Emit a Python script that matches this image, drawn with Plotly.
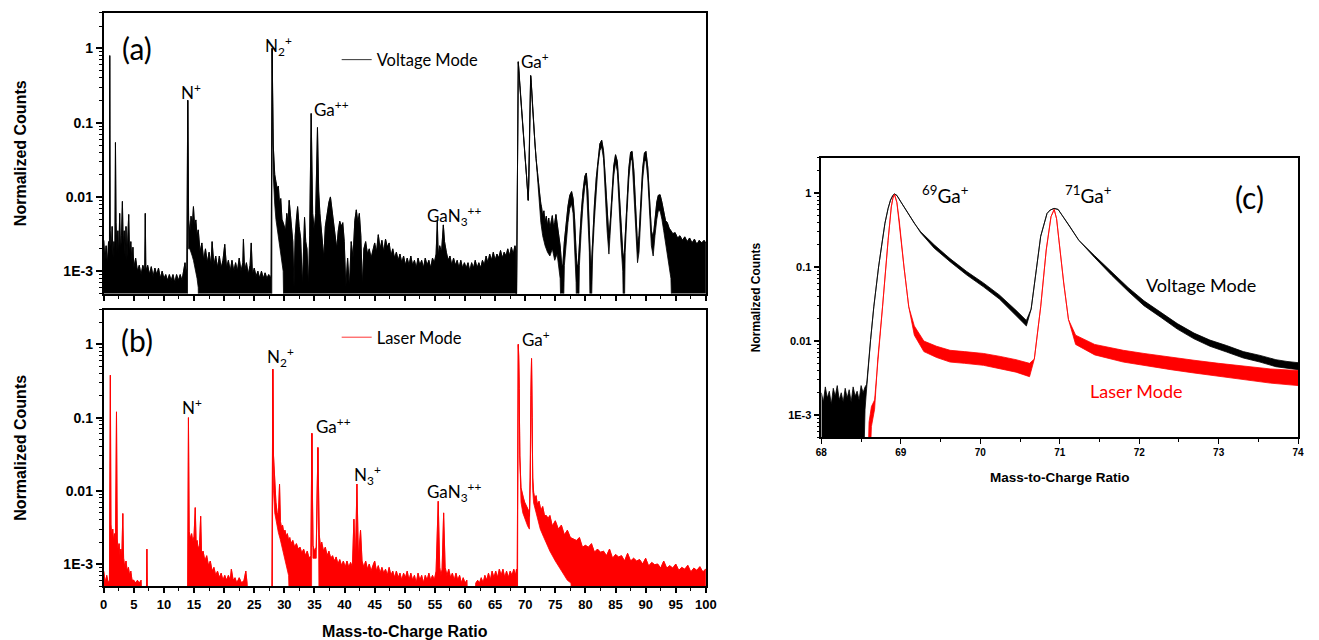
import plotly.graph_objects as go

Z = 1e-4  # no counts (below the plotted range)

# ======== Panel (a): Voltage mode, full spectrum ========
# upper edge of the trace band
a_top_mz = [0.0, 0.2, 0.4, 0.6, 0.8, 0.95, 1.0, 1.08, 1.25, 1.4,
            1.55, 1.7, 1.85, 1.95, 2.05, 2.2, 2.35, 2.5, 2.65, 2.8,
            2.95, 3.1, 3.25, 3.4, 3.55, 3.7, 3.85, 4.0, 4.15, 4.3,
            4.5, 4.7, 4.85, 5.0, 5.3, 5.6, 5.9, 6.2, 6.5, 6.8,
            6.9, 7.0, 7.3, 7.6, 7.9, 8.2, 8.5, 8.8, 9.1, 9.4,
            9.7, 10.0, 10.3, 10.6, 10.9, 11.2, 11.5, 11.8, 12.1, 12.4,
            12.7, 13.0, 13.3, 13.5, 13.7, 13.8, 13.95, 14.1, 14.3, 14.5,
            14.7, 14.9, 15.1, 15.3, 15.5, 15.7, 16.0, 16.3, 16.6, 16.9,
            17.2, 17.5, 17.8, 18.0, 18.3, 18.6, 18.9, 19.2, 19.5, 19.8,
            20.1, 20.4, 20.7, 21.0, 21.3, 21.6, 21.9, 22.2, 22.5, 22.8,
            23.1, 23.2, 23.4, 23.7, 24.0, 24.3, 24.5, 24.7, 25.0, 25.3,
            25.6, 25.9, 26.2, 26.5, 26.8, 27.1, 27.4, 27.7, 27.8, 27.97,
            28.15, 28.4, 28.6, 28.8, 29.0, 29.2, 29.4, 29.6, 29.8, 30.0,
            30.2, 30.4, 30.6, 30.8, 31.0, 31.2, 31.4, 31.6, 31.8, 32.0,
            32.2, 32.45, 32.7, 33.0, 33.2, 33.35, 33.55, 33.75, 34.0, 34.2,
            34.45, 34.7, 34.95, 35.2, 35.5, 35.7, 35.9, 36.1, 36.3, 36.55,
            36.8, 37.1, 37.4, 37.65, 37.9, 38.2, 38.45, 38.7, 38.95, 39.2,
            39.45, 39.7, 39.95, 40.2, 40.5, 40.8, 41.1, 41.4, 41.7, 41.95,
            42.2, 42.45, 42.7, 42.95, 43.2, 43.5, 43.8, 44.1, 44.4, 44.7,
            45.0, 45.3, 45.6, 45.9, 46.2, 46.5, 46.8, 47.1, 47.4, 47.7,
            48.0, 48.3, 48.6, 48.9, 49.2, 49.5, 49.8, 50.1, 50.4, 50.7,
            51.0, 51.3, 51.6, 51.9, 52.2, 52.5, 52.8, 53.1, 53.4, 53.7,
            54.0, 54.3, 54.6, 54.9, 55.2, 55.4, 55.55, 55.8, 56.1, 56.4,
            56.6, 56.9, 57.2, 57.5, 57.8, 58.1, 58.4, 58.7, 59.0, 59.3,
            59.6, 59.9, 60.2, 60.5, 60.8, 61.1, 61.4, 61.7, 62.0, 62.3,
            62.6, 62.9, 63.2, 63.5, 63.8, 64.1, 64.4, 64.7, 65.0, 65.3,
            65.6, 65.9, 66.2, 66.5, 66.8, 67.1, 67.4, 67.7, 68.0, 68.3,
            68.45, 68.5, 68.85, 68.95, 69.1, 69.3, 69.5, 69.75, 70.0, 70.2,
            70.4, 70.5, 70.6, 70.75, 70.9, 71.0, 71.2, 71.4, 71.6, 71.8,
            72.0, 72.2, 72.4, 72.6, 72.7, 72.9, 73.1, 73.3, 73.5, 73.7,
            73.9, 74.1, 74.3, 74.5, 74.7, 74.9, 75.1, 75.3, 75.5, 75.8,
            76.05, 76.25, 76.5, 76.8, 77.1, 77.4, 77.7, 77.95, 78.2, 78.45,
            78.6, 78.8, 79.0, 79.3, 79.6, 79.9, 80.15, 80.4, 80.65, 80.85,
            81.0, 81.2, 81.5, 81.8, 82.1, 82.4, 82.7, 83.0, 83.3, 83.6,
            83.9, 84.15, 84.4, 84.7, 85.0, 85.3, 85.6, 85.9, 86.2, 86.4,
            86.6, 86.9, 87.2, 87.5, 87.75, 88.05, 88.35, 88.65, 88.9, 89.2,
            89.5, 89.8, 90.05, 90.35, 90.65, 90.95, 91.25, 91.55, 91.85, 92.1,
            92.4, 92.7, 93.0, 93.3, 93.6, 93.9, 94.2, 94.5, 94.9, 95.3,
            95.7, 96.1, 96.5, 96.9, 97.3, 97.7, 98.1, 98.5, 98.9, 99.3,
            99.7, 100.0]
a_top = [2.6e-3, 1.4e-3, 2.2e-3, 1.2e-3, 2.5e-3, 1.6e-3, 0.8, 3.5e-3, 1.8e-3, 4e-3,
         1.5e-3, 2.5e-3, 1.6e-3, 0.054, 4.5e-3, 1.8e-3, 3.5e-3, 1.5e-3, 6e-3, 1.8e-3,
         3e-3, 8.7e-3, 2e-3, 3.5e-3, 1.5e-3, 4e-3, 1.4e-3, 2.5e-3, 5.8e-3, 1.6e-3,
         2.5e-3, 1.3e-3, 2.1e-3, 1.1e-3, 1.5e-3, 1.0e-3, 1.2e-3, 9e-4, 1.2e-3, 1.0e-3,
         6e-3, 1.0e-3, 1.2e-3, 9e-4, 1.15e-3, 8.5e-4, 1.1e-3, 9e-4, 1.1e-3, 8e-4,
         1.0e-3, 8e-4, 9e-4, 7.5e-4, 9e-4, 7.5e-4, 9e-4, 7e-4, 9e-4, 7.5e-4,
         9e-4, 7.5e-4, 1.0e-3, 1.3e-3, 9e-4, 1.1e-3, 0.2, 5e-3, 3.2e-3, 5.5e-3,
         4e-3, 7.4e-3, 4e-3, 4.9e-3, 3e-3, 3.6e-3, 1.8e-3, 2.4e-3, 1.4e-3, 2e-3,
         1.3e-3, 1.8e-3, 1.2e-3, 2.5e-3, 1.2e-3, 1.6e-3, 1.1e-3, 1.6e-3, 1.1e-3, 1.4e-3,
         2.3e-3, 1.1e-3, 1.4e-3, 1.0e-3, 1.4e-3, 1.0e-3, 1.3e-3, 1.0e-3, 1.5e-3, 1.0e-3,
         1.3e-3, 2.7e-3, 1.0e-3, 1.3e-3, 9e-4, 1.2e-3, 2.4e-3, 9e-4, 1.1e-3, 8.5e-4,
         1.0e-3, 8e-4, 1.0e-3, 8e-4, 9.5e-4, 8e-4, 9e-4, 8e-4, 9e-4, 1.0,
         0.05, 0.02, 0.016, 0.013, 0.014, 8e-3, 9.5e-3, 5e-3, 4.5e-3, 4e-3,
         3.5e-3, 6e-3, 4.5e-3, 9e-3, 6e-3, 4e-3, 2.5e-3, 6e-4, 3e-3, 5e-3,
         7.4e-3, 4e-3, 2.8e-3, 6e-4, 4e-3, 5.3e-3, 2.5e-3, 2e-3, 6e-4, 3e-3,
         0.133, 6e-3, 3.6e-3, 6e-3, 0.086, 0.012, 6e-3, 4e-3, 3e-3, 1.5e-3,
         4e-3, 6e-3, 8.5e-3, 0.01, 6.5e-3, 4e-3, 2.5e-3, 2e-3, 3.5e-3, 4.7e-3,
         4e-3, 4.5e-3, 2.5e-3, 6e-4, 1.5e-3, 6e-4, 2.5e-3, 1.5e-3, 4.8e-3, 6.7e-3,
         4.5e-3, 6e-3, 3e-3, 6e-4, 2e-3, 2.5e-3, 1.7e-3, 2e-3, 1.5e-3, 1.9e-3,
         2.4e-3, 1.8e-3, 3.1e-3, 2e-3, 2.6e-3, 1.8e-3, 2.7e-3, 2.1e-3, 2.4e-3, 1.6e-3,
         2e-3, 1.5e-3, 1.8e-3, 1.4e-3, 1.7e-3, 1.3e-3, 1.6e-3, 1.2e-3, 1.5e-3, 1.2e-3,
         1.6e-3, 1.2e-3, 1.4e-3, 1.1e-3, 1.5e-3, 1.2e-3, 1.4e-3, 1.1e-3, 1.5e-3, 1.2e-3,
         1.4e-3, 1.1e-3, 1.5e-3, 1.3e-3, 1.7e-3, 4.7e-3, 1.6e-3, 2.2e-3, 1.8e-3, 4.2e-3,
         2.5e-3, 1.8e-3, 1.4e-3, 1.6e-3, 1.2e-3, 1.5e-3, 1.2e-3, 1.4e-3, 1.1e-3, 1.4e-3,
         1.1e-3, 1.3e-3, 1.1e-3, 1.3e-3, 1.0e-3, 1.3e-3, 1.1e-3, 1.4e-3, 1.1e-3, 1.3e-3,
         1.1e-3, 1.4e-3, 1.2e-3, 1.6e-3, 1.3e-3, 1.7e-3, 1.4e-3, 1.8e-3, 1.4e-3, 1.7e-3,
         1.5e-3, 1.9e-3, 1.5e-3, 1.8e-3, 1.6e-3, 2e-3, 1.6e-3, 2.1e-3, 1.7e-3, 2.2e-3,
         1.9e-3, Z, 0.66, 0.5, 0.32, 0.18, 0.1, 0.055, 0.032, 0.02,
         0.012, 9e-3, 0.015, 0.1, 0.43, 0.35, 0.17, 0.09, 0.055, 0.033,
         0.021, 0.014, 0.011, 8e-3, 7.4e-3, 5.5e-3, 6.5e-3, 4.5e-3, 5.5e-3, 4e-3,
         5.2e-3, 3.8e-3, 4.8e-3, 5.6e-3, 4e-3, 4.5e-3, 5.8e-3, 4.5e-3, 3.5e-3, 2.2e-3,
         1.2e-3, 1.2e-3, 2.5e-3, 4.5e-3, 7.5e-3, 0.0105, 0.0118, 9.5e-3, 5e-3, 1.8e-3,
         1.2e-3, 1.2e-3, 2.5e-3, 6e-3, 0.012, 0.019, 0.021, 0.012, 3.5e-3, 1.2e-3,
         1.2e-3, 3e-3, 8e-3, 0.018, 0.035, 0.052, 0.058, 0.042, 0.018, 6e-3,
         2.8e-3, 5e-3, 0.012, 0.026, 0.037, 0.03, 0.012, 4e-3, 1.8e-3, 1.4e-3,
         3e-3, 9e-3, 0.024, 0.04, 0.041, 0.022, 6.5e-3, 2.2e-3, 3e-3, 9e-3,
         0.024, 0.039, 0.041, 0.025, 9e-3, 3.5e-3, 2.8e-3, 5e-3, 8.5e-3, 0.0105,
         0.0107, 8.5e-3, 6.5e-3, 4.8e-3, 4.5e-3, 3.8e-3, 3.5e-3, 3.2e-3, 3.3e-3, 2.8e-3,
         3e-3, 2.6e-3, 2.9e-3, 2.5e-3, 2.8e-3, 2.4e-3, 2.7e-3, 2.3e-3, 2.6e-3, 2.4e-3,
         2.6e-3, 2.4e-3]
# lower edge of the trace band
a_bot_mz = [0.0, 13.9, 13.95, 14.1, 14.3, 14.5, 14.7, 14.9, 15.1, 15.3,
            15.5, 15.7, 15.8, 27.9, 27.97, 28.15, 28.4, 28.6, 28.8, 29.0,
            29.2, 29.4, 29.6, 29.8, 30.0, 68.5, 68.85, 68.95, 69.1, 69.3,
            69.5, 69.75, 70.0, 70.2, 70.4, 70.5, 70.6, 70.75, 70.9, 71.0,
            71.2, 71.4, 71.6, 71.8, 72.0, 72.2, 72.4, 72.6, 72.9, 73.3,
            73.7, 74.1, 74.5, 74.9, 75.3, 75.8, 76.05, 76.25, 76.5, 76.8,
            77.1, 77.4, 77.7, 77.95, 78.2, 78.45, 78.6, 78.8, 79.0, 79.3,
            79.6, 79.9, 80.15, 80.4, 80.65, 80.85, 81.0, 81.2, 81.5, 81.8,
            82.1, 82.4, 82.7, 83.0, 83.3, 83.6, 83.9, 84.15, 84.4, 84.7,
            85.0, 85.3, 85.6, 85.9, 86.2, 86.4, 86.6, 86.9, 87.2, 87.5,
            87.75, 88.05, 88.35, 88.65, 88.9, 89.2, 89.5, 89.8, 90.05, 90.35,
            90.65, 90.95, 91.25, 91.55, 91.85, 92.1, 92.4, 92.7, 93.0, 93.3,
            93.6, 93.9, 94.2, 94.5, 100.0]
a_bot = [Z, Z, 0.2, 2e-3, 2e-3, 1.8e-3, 1.6e-3, 1.4e-3, 1.2e-3, 1e-3,
         8e-4, 6e-4, Z, Z, 1.0, 0.02, 8e-3, 5e-3, 3.5e-3, 3e-3,
         2.2e-3, 1.8e-3, 1.3e-3, 1e-3, Z, Z, 0.66, 0.5, 0.32, 0.18,
         0.1, 0.055, 0.032, 0.02, 0.012, 9e-3, 0.015, 0.1, 0.43, 0.35,
         0.17, 0.09, 0.055, 0.033, 0.021, 0.011, 7e-3, 4.5e-3, 3e-3, 2.2e-3,
         1.8e-3, 1.6e-3, 2e-3, 1.4e-3, 1.7e-3, 8e-4, Z, Z, 1.2e-3, 2.5e-3,
         4.5e-3, 7e-3, 8e-3, 6e-3, 2.5e-3, 7e-4, Z, Z, 1.2e-3, 3.5e-3,
         8e-3, 0.014, 0.016, 7e-3, 1.8e-3, Z, Z, 1.7e-3, 5e-3, 0.013,
         0.027, 0.042, 0.047, 0.033, 0.012, 3.5e-3, 1.7e-3, 3.3e-3, 8e-3, 0.019,
         0.029, 0.022, 8e-3, 2.4e-3, 1e-3, Z, 1.8e-3, 6e-3, 0.017, 0.031,
         0.032, 0.015, 4e-3, 1.3e-3, 1.8e-3, 6e-3, 0.017, 0.03, 0.031, 0.018,
         6e-3, 2.2e-3, 1.6e-3, 3e-3, 5e-3, 6.5e-3, 6.5e-3, 5e-3, 3.5e-3, 2.5e-3,
         1.8e-3, 1.2e-3, 8e-4, Z, Z]

# ======== Panel (b): Laser mode, full spectrum ========
b_top_mz = [0.0, 0.25, 0.5, 0.75, 0.95, 1.1, 1.2, 1.35, 1.5, 1.65,
            1.8, 1.95, 2.12, 2.25, 2.4, 2.55, 2.7, 2.85, 3.0, 3.17,
            3.3, 3.5, 3.7, 3.9, 4.1, 4.3, 4.5, 4.7, 5.0, 5.3,
            5.6, 5.9, 6.2, 6.5, 7.0, 7.17, 7.35, 13.9, 14.07, 14.2,
            14.4, 14.6, 14.8, 15.0, 15.2, 15.35, 15.5, 15.7, 15.9, 16.1,
            16.25, 16.5, 16.8, 17.1, 17.4, 17.7, 18.0, 18.3, 18.6, 18.9,
            19.2, 19.5, 19.8, 20.1, 20.4, 20.7, 21.0, 21.2, 21.5, 21.8,
            22.1, 22.5, 22.9, 23.3, 23.6, 23.8, 24.1, 27.9, 28.08, 28.2,
            28.4, 28.6, 28.8, 29.0, 29.2, 29.35, 29.5, 29.7, 29.9, 30.1,
            30.3, 30.5, 30.7, 30.9, 31.1, 31.4, 31.7, 32.0, 32.3, 32.6,
            32.9, 33.2, 33.5, 33.8, 34.1, 34.4, 34.57, 34.75, 35.0, 35.3,
            35.57, 35.8, 36.0, 36.2, 36.5, 36.8, 37.1, 37.4, 37.7, 38.0,
            38.3, 38.6, 38.9, 39.2, 39.5, 39.8, 40.1, 40.4, 40.7, 41.0,
            41.3, 41.55, 41.8, 42.05, 42.3, 42.65, 42.9, 43.2, 43.5, 43.8,
            44.1, 44.4, 44.7, 45.0, 45.3, 45.6, 45.9, 46.2, 46.5, 46.8,
            47.1, 47.4, 47.7, 48.0, 48.3, 48.6, 48.9, 49.2, 49.5, 49.8,
            50.1, 50.4, 50.7, 51.0, 51.3, 51.6, 51.9, 52.2, 52.5, 52.8,
            53.1, 53.4, 53.7, 54.0, 54.3, 54.6, 54.9, 55.2, 55.55, 55.8,
            56.0, 56.2, 56.45, 56.7, 57.0, 57.3, 57.6, 57.9, 58.2, 58.5,
            58.8, 59.1, 59.4, 59.7, 60.0, 60.3, 60.6, 61.5, 61.8, 62.1,
            62.4, 62.7, 63.0, 63.3, 63.6, 63.9, 64.2, 64.5, 64.8, 65.1,
            65.4, 65.7, 66.0, 66.3, 66.6, 66.9, 67.2, 67.5, 67.8, 68.1,
            68.4, 68.55, 68.62, 68.85, 68.92, 69.0, 69.1, 69.3, 69.5, 69.7,
            69.9, 70.1, 70.3, 70.5, 70.7, 70.85, 70.95, 71.05, 71.15, 71.25,
            71.4, 71.6, 71.8, 72.0, 72.3, 72.6, 72.9, 73.2, 73.5, 73.8,
            74.1, 74.5, 75.0, 75.5, 76.0, 76.5, 77.0, 77.5, 78.0, 78.5,
            79.0, 79.5, 80.0, 80.5, 81.0, 81.5, 82.0, 82.5, 83.0, 83.5,
            84.0, 84.5, 85.0, 85.5, 86.0, 86.5, 87.0, 87.5, 88.0, 88.5,
            89.0, 89.5, 90.0, 90.5, 91.0, 91.5, 92.0, 92.5, 93.0, 93.5,
            94.0, 94.5, 95.0, 95.5, 96.0, 96.5, 97.0, 97.5, 98.0, 98.5,
            99.0, 99.5, 100.0]
b_top = [8e-4, 5.5e-4, 7e-4, 5.5e-4, 6e-4, 0.38, 3.5e-3, 2.2e-3, 3e-3, 2e-3,
         2.6e-3, 1.8e-3, 0.12, 2.2e-3, 1.5e-3, 1.9e-3, 1.3e-3, 1.6e-3, 1.2e-3, 4.9e-3,
         1.2e-3, 9e-4, 1.1e-3, 8e-4, 9e-4, 7e-4, 8e-4, 6e-4, 6e-4, 5.5e-4,
         6e-4, 5.5e-4, 6e-4, Z, Z, 1.6e-3, Z, Z, 0.1, 2.8e-3,
         2.2e-3, 2.6e-3, 2e-3, 2.4e-3, 5.9e-3, 1.9e-3, 2.1e-3, 1.6e-3, 1.8e-3, 4.5e-3,
         1.4e-3, 1.5e-3, 1.1e-3, 1.3e-3, 9.5e-4, 1.1e-3, 8e-4, 9e-4, 7e-4, 8e-4,
         6.5e-4, 7.5e-4, 6e-4, 7e-4, 6e-4, 7e-4, 6e-4, 8.5e-4, 6e-4, 6.5e-4,
         5.5e-4, 6.5e-4, 5.5e-4, 6e-4, 8e-4, 5.5e-4, Z, Z, 0.46, 0.03,
         0.0135, 7e-3, 5e-3, 4.5e-3, 0.0123, 3.8e-3, 3.2e-3, 3.4e-3, 2.7e-3, 2.9e-3,
         2.4e-3, 2.6e-3, 2.1e-3, 2.3e-3, 1.9e-3, 2.1e-3, 1.7e-3, 1.9e-3, 1.6e-3, 1.7e-3,
         1.4e-3, 1.6e-3, 1.3e-3, 1.5e-3, 1.2e-3, 1.3e-3, 0.061, 1.8e-3, 1.5e-3, 1.7e-3,
         0.039, 2.5e-3, 1.7e-3, 2e-3, 1.5e-3, 1.7e-3, 1.3e-3, 1.5e-3, 1.2e-3, 1.3e-3,
         1.1e-3, 1.25e-3, 1e-3, 1.15e-3, 9.5e-4, 1.1e-3, 9e-4, 1.1e-3, 9e-4, 1.05e-3,
         9e-4, 4.1e-3, 1.1e-3, 0.0124, 1.2e-3, 2.9e-3, 1.1e-3, 9e-4, 1.1e-3, 8.5e-4,
         1e-3, 8e-4, 9.5e-4, 1.1e-3, 8e-4, 9.5e-4, 7.5e-4, 9e-4, 7.5e-4, 8.5e-4,
         7e-4, 9e-4, 7e-4, 8e-4, 6.5e-4, 8e-4, 6.5e-4, 7.5e-4, 6e-4, 7.5e-4,
         6.5e-4, 8e-4, 6e-4, 7.5e-4, 6e-4, 7e-4, 5.5e-4, 7.5e-4, 6e-4, 7e-4,
         5.5e-4, 7e-4, 6e-4, 7.5e-4, 6e-4, 7e-4, 6e-4, 8e-4, 7.2e-3, 9e-4,
         7e-4, 8.5e-4, 5e-3, 9e-4, 7e-4, 8.5e-4, 6.5e-4, 7.5e-4, 6e-4, 7.5e-4,
         6e-4, 7e-4, 5.5e-4, 6.5e-4, 5.5e-4, 6e-4, Z, Z, 5.5e-4, 6e-4,
         5.5e-4, 6.5e-4, 5.5e-4, 7e-4, 6e-4, 7.5e-4, 6e-4, 8e-4, 6.5e-4, 8e-4,
         6.5e-4, 8.5e-4, 7e-4, 8.5e-4, 6.5e-4, 8e-4, 6.5e-4, 8e-4, 7e-4, 8.5e-4,
         7e-4, 8.5e-4, Z, 1.0, 0.7, 0.25, 0.03, 0.011, 9e-3, 8e-3,
         7e-3, 6.5e-3, 6e-3, 5.5e-3, 4.5e-3, 0.015, 0.2, 0.64, 0.1, 0.015,
         9.5e-3, 7.6e-3, 8.6e-3, 6.6e-3, 7.2e-3, 5.4e-3, 6.1e-3, 4.6e-3, 4.6e-3, 4.2e-3,
         4.6e-3, 3.3e-3, 3.9e-3, 3.0e-3, 3.4e-3, 2.5e-3, 2.9e-3, 2.3e-3, 2.2e-3, 2.1e-3,
         2.3e-3, 1.7e-3, 1.8e-3, 1.7e-3, 1.9e-3, 1.45e-3, 1.6e-3, 1.45e-3, 1.5e-3, 1.3e-3,
         1.6e-3, 1.2e-3, 1.35e-3, 1.25e-3, 1.3e-3, 1.1e-3, 1.4e-3, 1.1e-3, 1.2e-3, 1.1e-3,
         1.15e-3, 1.0e-3, 1.2e-3, 9.4e-4, 1.05e-3, 9.8e-4, 1.0e-3, 8.8e-4, 1.1e-3, 8.8e-4,
         9.5e-4, 8.8e-4, 1.0e-3, 8.2e-4, 9.0e-4, 8.5e-4, 9.6e-4, 7.8e-4, 8.8e-4, 8.2e-4,
         9.2e-4, 7.8e-4, 8.6e-4]
b_bot_mz = [0.0, 28.0, 28.08, 28.2, 28.4, 28.6, 28.8, 29.0, 29.3, 29.6,
            29.9, 30.3, 30.7, 31.0, 34.5, 34.57, 34.75, 35.3, 35.57, 35.8,
            68.7, 68.85, 68.92, 69.0, 69.1, 69.3, 69.6, 70.0, 70.4, 70.7,
            70.85, 70.95, 71.05, 71.15, 71.25, 71.4, 71.8, 72.0, 72.5, 73.0,
            73.5, 74.1, 75.0, 76.0, 77.0, 77.6, 78.0, 100.0]
b_bot = [Z, Z, 0.46, 0.01, 5e-3, 4e-3, 3.2e-3, 2.7e-3, 2.2e-3, 1.7e-3,
         1.3e-3, 1e-3, 7e-4, Z, Z, 0.061, 1.2e-3, 1.2e-3, 0.039, Z,
         Z, 1.0, 0.7, 0.25, 0.03, 7e-3, 5e-3, 4e-3, 3.3e-3, 3e-3,
         0.015, 0.2, 0.64, 0.1, 0.01, 6.8e-3, 5e-3, 4.3e-3, 3e-3, 2.4e-3,
         2e-3, 1.5e-3, 1.1e-3, 8e-4, 6e-4, 5.5e-4, Z, Z]

# ======== Panel (c): zoom on the Ga+ isotopes ========
c_volt_mz = [68.0, 68.025, 68.05, 68.075, 68.1, 68.125, 68.15, 68.175, 68.2, 68.225,
             68.25, 68.275, 68.3, 68.325, 68.35, 68.375, 68.4, 68.425, 68.45, 68.475,
             68.5, 68.525, 68.55,
             68.57, 68.62, 68.66, 68.72, 68.76, 68.8, 68.84, 68.87, 68.9, 68.92,
             68.95, 69.0, 69.08, 69.17, 69.25, 69.42, 69.62, 69.83, 70.04, 70.24,
             70.45, 70.58, 70.64, 70.7, 70.76, 70.84, 70.88, 70.93, 70.98, 71.03,
             71.13, 71.24, 71.44, 71.65, 71.86, 72.06, 72.27, 72.48, 72.69, 72.89,
             73.1, 73.31, 73.52, 73.72, 73.86, 74.0]
c_volt_hi = [2.0e-3, 1.5e-3, 2.4e-3, 1.7e-3, 2.1e-3, 1.4e-3, 2.3e-3, 1.8e-3, 2.5e-3, 1.6e-3,
             2.0e-3, 1.5e-3, 2.3e-3, 1.7e-3, 2.2e-3, 1.5e-3, 2.4e-3, 1.8e-3, 2.1e-3, 1.6e-3,
             2.5e-3, 2.0e-3, 2.4e-3,
             2.6e-3, 0.0105, 0.029, 0.1, 0.2, 0.39, 0.62, 0.8, 0.93, 0.97,
             0.93, 0.76, 0.56, 0.39, 0.30, 0.2, 0.13, 0.087, 0.061, 0.042,
             0.026, 0.019, 0.027, 0.083, 0.26, 0.53, 0.59, 0.62, 0.6, 0.5,
             0.35, 0.23, 0.142, 0.087, 0.053, 0.035, 0.0245, 0.0172, 0.0128, 0.0103,
             0.0087, 0.0072, 0.0064, 0.0056, 0.0053, 0.0051]
c_volt_lo = [Z, Z, Z, Z, Z, Z, Z, Z, Z, Z,
             Z, Z, Z, Z, Z, Z, Z, Z, Z, Z,
             Z, Z, 1.2e-3,
             2.3e-3, 0.0105, 0.029, 0.1, 0.2, 0.39, 0.62, 0.8, 0.93, 0.97,
             0.93, 0.76, 0.56, 0.39, 0.29, 0.18, 0.118, 0.078, 0.054, 0.037,
             0.022, 0.016, 0.027, 0.083, 0.26, 0.53, 0.59, 0.62, 0.6, 0.5,
             0.35, 0.23, 0.134, 0.078, 0.047, 0.030, 0.021, 0.0145, 0.0107, 0.0085,
             0.0071, 0.0059, 0.0052, 0.0045, 0.0043, 0.0041]

c_laser_mz = [68.0, 68.58, 68.6, 68.63, 68.67, 68.71, 68.77, 68.84, 68.88, 68.9,
              68.92, 68.95, 68.98, 69.04, 69.1, 69.17, 69.29, 69.45, 69.62, 69.8,
              70.04, 70.25, 70.45, 70.62, 70.68, 70.76, 70.83, 70.89, 70.93, 70.96,
              70.99, 71.05, 71.11, 71.2, 71.44, 71.8, 72.06, 72.4, 72.69, 73.0,
              73.31, 73.65, 74.0]
c_laser_hi = [Z, Z, 8e-4, 1.3e-3, 1.6e-3, 5.7e-3, 0.029, 0.23, 0.65, 0.85,
              0.96, 0.75, 0.43, 0.1, 0.029, 0.016, 0.010, 0.0085, 0.0075, 0.0072,
              0.0068, 0.0062, 0.0056, 0.005, 0.0057, 0.029, 0.17, 0.48, 0.6, 0.45,
              0.23, 0.061, 0.0195, 0.012, 0.009, 0.0075, 0.0068, 0.006, 0.0055, 0.005,
              0.0046, 0.0042, 0.0040]
c_laser_lo = [Z, Z, Z, 7e-4, 1.2e-3, 5.7e-3, 0.029, 0.23, 0.65, 0.85,
              0.96, 0.75, 0.43, 0.1, 0.029, 0.012, 0.0072, 0.006, 0.0052, 0.005,
              0.0047, 0.0042, 0.0038, 0.0033, 0.0057, 0.029, 0.17, 0.48, 0.6, 0.45,
              0.23, 0.061, 0.0195, 0.009, 0.0065, 0.0052, 0.0047, 0.0041, 0.0037, 0.0033,
              0.003, 0.0027, 0.0025]

y_tickvals = [1e-3, 1e-2, 1e-1, 1]
y_ticktext = ["1E-3", "0.01", "0.1", "1"]

for xs, ys in [(a_top_mz, a_top), (a_bot_mz, a_bot), (b_top_mz, b_top), (b_bot_mz, b_bot),
               (c_volt_mz, c_volt_hi), (c_volt_mz, c_volt_lo),
               (c_laser_mz, c_laser_hi), (c_laser_mz, c_laser_lo)]:
    assert len(xs) == len(ys), (len(xs), len(ys))

BLACK = "#000000"
RED = "#ff0000"
W, H = 1319, 640

fig = go.Figure()


def add_spectrum(xt, yt, xb, yb, color, xa, ya, name=None, legend=None):
    bx = list(xt) + list(xb)[::-1]
    by = list(yt) + list(yb)[::-1]
    fig.add_trace(go.Scatter(x=bx, y=by, mode="lines", fill="toself", fillcolor=color,
                             line=dict(color=color, width=0.8), showlegend=False,
                             hoverinfo="skip", xaxis=xa, yaxis=ya))
    if name:
        fig.add_trace(go.Scatter(x=xt, y=yt, mode="lines", line=dict(color=color, width=0.8),
                                 name=name, showlegend=True, legend=legend,
                                 xaxis=xa, yaxis=ya))


add_spectrum(a_top_mz, a_top, a_bot_mz, a_bot, BLACK, "x", "y", "Voltage Mode", "legend")
add_spectrum(b_top_mz, b_top, b_bot_mz, b_bot, RED, "x2", "y2", "Laser Mode", "legend2")
add_spectrum(c_volt_mz, c_volt_hi, c_volt_mz, c_volt_lo, BLACK, "x3", "y3")
add_spectrum(c_laser_mz, c_laser_hi, c_laser_mz, c_laser_lo, RED, "x3", "y3")

ARIAL = "Liberation Sans, Arial"
TICKFONT = dict(family=ARIAL, size=14, color="black", weight="bold")
TICKFONT_C = dict(family=ARIAL, size=11, color="black", weight="bold")
TITLEFONT = dict(family=ARIAL, size=16, color="black", weight="bold")
TITLEFONT_C = dict(family=ARIAL, size=12, color="black", weight="bold")
LBL = "Lato, Open Sans, sans-serif"

common = dict(showline=True, linecolor="black", mirror=True, showgrid=False,
              zeroline=False, ticks="outside", tickcolor="black")
YRANGE = [-3.301, 0.477]


def xdom(l, r):
    return [l / W, r / W]


def ydom(top, bottom):
    return [1 - bottom / H, 1 - top / H]


def yax(dom, anchor, tf, ttf, standoff, lw):
    return dict(domain=dom, anchor=anchor, type="log", range=YRANGE,
                tickmode="array", tickvals=y_tickvals, ticktext=y_ticktext,
                ticklen=6, tickwidth=1.5, linewidth=lw,
                minor=dict(ticks="outside", ticklen=3, tickwidth=1, tickcolor="black",
                           dtick="D1", showgrid=False),
                tickfont=tf,
                title=dict(text="Normalized Counts", font=ttf, standoff=standoff),
                **common)


fig.update_layout(
    width=W, height=H, margin=dict(l=0, r=0, t=0, b=0),
    paper_bgcolor="white", plot_bgcolor="white",
    xaxis=dict(domain=xdom(99, 709), anchor="y", range=[0, 100], tick0=0, dtick=5,
               ticklen=5, tickwidth=1.5, linewidth=2, showticklabels=False,
               minor=dict(ticks="outside", dtick=2.5, tick0=0, ticklen=3, tickwidth=1,
                          tickcolor="black"),
               **common),
    yaxis=yax(ydom(13, 294), "x", TICKFONT, TITLEFONT, 33, 2),
    xaxis2=dict(domain=xdom(99, 709), anchor="y2", range=[0, 100], tick0=0, dtick=5,
                ticklen=5, tickwidth=1.5, linewidth=2, tickfont=dict(TICKFONT, size=13),
                minor=dict(ticks="outside", dtick=2.5, tick0=0, ticklen=3, tickwidth=1,
                           tickcolor="black"),
                title=dict(text="Mass-to-Charge Ratio", font=dict(TITLEFONT, size=16),
                           standoff=17),
                **common),
    yaxis2=yax(ydom(310, 587), "x2", TICKFONT, TITLEFONT, 33, 2),
    xaxis3=dict(domain=xdom(826, 1309), anchor="y3", range=[68, 74], tick0=68, dtick=1,
                ticklen=5, tickwidth=1.2, linewidth=1.5, tickfont=dict(TICKFONT_C, size=10),
                minor=dict(ticks="outside", dtick=0.5, tick0=68, ticklen=3, tickwidth=1,
                           tickcolor="black"),
                title=dict(text="Mass-to-Charge Ratio", font=dict(TITLEFONT_C, size=13.5),
                           standoff=15),
                **common),
    yaxis3=yax(ydom(158, 438), "x3", TICKFONT_C, TITLEFONT_C, 25, 1.5),
    legend=dict(x=335 / W, y=1 - 60 / H, xanchor="left", yanchor="middle",
                bgcolor="rgba(0,0,0,0)", borderwidth=0,
                font=dict(family=LBL, size=16.5, color="black")),
    legend2=dict(x=335 / W, y=1 - 338 / H, xanchor="left", yanchor="middle",
                 bgcolor="rgba(0,0,0,0)", borderwidth=0,
                 font=dict(family=LBL, size=16.5, color="black")),
    showlegend=True,
)


def lab(text, px, py, size=17, color="black"):
    fig.add_annotation(text=text, x=px / W, y=1 - py / H, xref="paper", yref="paper",
                       xanchor="center", yanchor="middle", showarrow=False,
                       font=dict(family=LBL, size=size, color=color))


# panel (a)
lab("(a)", 133, 48, 30)
lab("N<sup>+</sup>", 187, 92)
lab("N<sub>2</sub><sup>+</sup>", 276, 46)
lab("Ga<sup>++</sup>", 330, 109)
lab("GaN<sub>3</sub><sup>++</sup>", 454, 216)
lab("Ga<sup>+</sup>", 536, 61)
# panel (b)
lab("(b)", 133, 341, 30)
lab("N<sup>+</sup>", 188, 407)
lab("N<sub>2</sub><sup>+</sup>", 278, 358)
lab("Ga<sup>++</sup>", 332, 426)
lab("N<sub>3</sub><sup>+</sup>", 366, 476)
lab("GaN<sub>3</sub><sup>++</sup>", 454, 493)
lab("Ga<sup>+</sup>", 537, 339)
# panel (c)
lab("<sup>69</sup>Ga<sup>+</sup>", 952, 195, 19)
lab("<sup>71</sup>Ga<sup>+</sup>", 1097, 195, 19)
lab("(c)", 1260, 197, 30)
lab("Voltage Mode", 1211, 285, 18)
lab("Laser Mode", 1145, 392, 18, RED)

fig.write_html("out.html",
               config={"displayModeBar": False},
               post_script="document.body.style.margin='0px';"
                           "document.body.style.padding='0px';"
                           "document.body.style.overflow='hidden';")
